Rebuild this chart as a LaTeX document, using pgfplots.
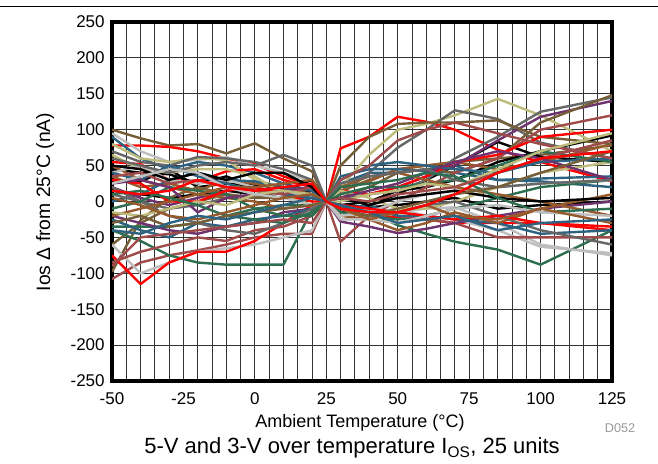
\documentclass[border=0pt]{standalone}
\usepackage{fontspec}
\setmainfont{Liberation Sans}
\usepackage{pgfplots}
\pgfplotsset{compat=1.18}

\definecolor{cR}{RGB}{255,0,0}
\definecolor{cK}{RGB}{0,0,0}
\definecolor{cG}{RGB}{103,103,103}
\definecolor{cL}{RGB}{190,190,190}
\definecolor{cY}{RGB}{190,188,125}
\definecolor{cB}{RGB}{150,90,45}
\definecolor{cD}{RGB}{118,94,56}
\definecolor{cM}{RGB}{160,75,75}
\definecolor{cS}{RGB}{45,98,128}
\definecolor{cN}{RGB}{45,110,80}
\definecolor{cP}{RGB}{110,50,110}

\begin{document}
\begin{tikzpicture}[font=\fontsize{12.75}{15}\selectfont]
\useasboundingbox (0,0) rectangle (493.5pt,348pt);
\draw[line width=0.75pt] (0,342.75pt) -- (493.5pt,342.75pt);

\begin{axis}[
    at={(84pt,62.25pt)}, anchor=south west,
    scale only axis, width=375pt, height=269.25pt,
    xmin=-50, xmax=125, ymin=-250, ymax=250,
    xtick={-50,-25,...,125}, minor x tick num=4,
    ytick={-250,-200,...,250},
    xmajorgrids, xminorgrids, ymajorgrids,
    grid style={black!80, line width=0.75pt},
    minor grid style={black!80, line width=0.75pt},
    major tick length=0pt, minor tick length=0pt,
    axis line style={line width=2.4pt},
    tick label style={font=\fontsize{12.75}{15}\selectfont},
    xticklabel style={yshift=-5pt},
    yticklabel style={xshift=-2pt},
    /pgf/number format/assume math mode=true,
    every axis plot/.append style={line width=1.8pt, line join=round},
  ]
% T: -50 -40 -30 -20 -10 0 10 20 25 30 40 50 60 70 85 100 125
\addplot[cD] coordinates {(-50,100)(-40,88)(-30,78)(-20,80)(-10,67)(0,81)(10,60)(20,42)(25,0)(30,15)(40,30)(50,45)(60,50)(70,55)(85,60)(100,65)(125,78)};
\addplot[cR] coordinates {(-50,78)(-40,78)(-30,76)(-20,70)(-10,60)(0,52)(10,35)(20,22)(25,0)(30,74)(40,90)(50,118)(60,111)(70,100)(85,72)(100,55)(125,28)};
\addplot[cL] coordinates {(-50,95)(-40,70)(-30,55)(-20,58)(-10,62)(0,50)(10,40)(20,28)(25,0)(30,-25)(40,-22)(50,-15)(60,-10)(70,-8)(85,-30)(100,-60)(125,-75)};
\addplot[cS] coordinates {(-50,90)(-40,60)(-30,45)(-20,55)(-10,50)(0,40)(10,25)(20,15)(25,0)(30,25)(40,40)(50,40)(60,45)(70,50)(85,30)(100,32)(125,35)};
\addplot[cY] coordinates {(-50,80)(-40,60)(-30,55)(-20,60)(-10,58)(0,30)(10,20)(20,15)(25,0)(30,20)(40,65)(50,100)(60,108)(70,120)(85,143)(100,120)(125,70)};
\addplot[cG] coordinates {(-50,70)(-40,55)(-30,50)(-20,62)(-10,60)(0,55)(10,45)(20,30)(25,0)(30,10)(40,40)(50,75)(60,100)(70,127)(85,115)(100,82)(125,60)};
\addplot[cR] coordinates {(-50,55)(-40,52)(-30,30)(-20,28)(-10,42)(0,45)(10,30)(20,20)(25,0)(30,-10)(40,-20)(50,-22)(60,-25)(70,-30)(85,-30)(100,-30)(125,-40)};
\addplot[cK] coordinates {(-50,45)(-40,40)(-30,38)(-20,25)(-10,35)(0,20)(10,18)(20,10)(25,0)(30,-15)(40,-5)(50,10)(60,30)(70,50)(85,83)(100,62)(125,55)};
\addplot[cK] coordinates {(-50,30)(-40,28)(-30,45)(-20,20)(-10,25)(0,22)(10,15)(20,30)(25,0)(30,-5)(40,0)(50,15)(60,20)(70,30)(85,55)(100,70)(125,92)};
\addplot[cK] coordinates {(-50,15)(-40,10)(-30,5)(-20,10)(-10,15)(0,10)(10,5)(20,15)(25,0)(30,-5)(40,-8)(50,-5)(60,0)(70,5)(85,-10)(100,-5)(125,0)};
\addplot[cB] coordinates {(-50,35)(-40,20)(-30,25)(-20,15)(-10,30)(0,25)(10,20)(20,10)(25,0)(30,15)(40,28)(50,45)(60,50)(70,55)(85,45)(100,55)(125,80)};
\addplot[cS] coordinates {(-50,0)(-40,10)(-30,30)(-20,40)(-10,30)(0,28)(10,20)(20,15)(25,0)(30,35)(40,45)(50,45)(60,42)(70,40)(85,30)(100,28)(125,20)};
\addplot[cP] coordinates {(-50,20)(-40,5)(-30,-5)(-20,5)(-10,15)(0,20)(10,10)(20,5)(25,0)(30,5)(40,10)(50,20)(60,35)(70,50)(85,85)(100,118)(125,140)};
\addplot[cG] coordinates {(-50,10)(-40,0)(-30,-10)(-20,-5)(-10,5)(0,10)(10,5)(20,10)(25,0)(30,5)(40,10)(50,15)(60,30)(70,60)(85,90)(100,125)(125,145)};
\addplot[cD] coordinates {(-50,-60)(-40,-30)(-30,-10)(-20,0)(-10,10)(0,5)(10,5)(20,10)(25,0)(30,50)(40,90)(50,108)(60,110)(70,110)(85,113)(100,90)(125,80)};
\addplot[cD] coordinates {(-50,-98)(-40,-26)(-30,5)(-20,20)(-10,10)(0,5)(10,15)(20,20)(25,0)(30,5)(40,20)(50,40)(60,45)(70,40)(85,60)(100,110)(125,148)};
\addplot[cM] coordinates {(-50,-108)(-40,-85)(-30,-75)(-20,-68)(-10,-60)(0,-50)(10,-45)(20,-45)(25,0)(30,-56)(40,-20)(50,0)(60,20)(70,40)(85,60)(100,100)(125,120)};
\addplot[cN] coordinates {(-50,-40)(-40,-55)(-30,-75)(-20,-85)(-10,-88)(0,-88)(10,-88)(20,-12)(25,0)(30,-15)(40,-20)(50,-25)(60,-20)(70,-10)(85,5)(100,20)(125,30)};
\addplot[cN] coordinates {(-50,-35)(-40,-35)(-30,-35)(-20,-30)(-10,-20)(0,-10)(10,-5)(20,-5)(25,0)(30,-5)(40,-15)(50,-33)(60,-45)(70,-56)(85,-67)(100,-88)(125,-40)};
\addplot[cL] coordinates {(-50,-60)(-40,-100)(-30,-85)(-20,-70)(-10,-65)(0,-60)(10,-50)(20,-40)(25,0)(30,-20)(40,-15)(50,-10)(60,-20)(70,-25)(85,-40)(100,-63)(125,-72)};
\addplot[cR] coordinates {(-50,-75)(-40,-115)(-30,-85)(-20,-70)(-10,-70)(0,-55)(10,-30)(20,-5)(25,0)(30,15)(40,10)(50,20)(60,35)(70,55)(85,65)(100,90)(125,100)};
\addplot[cM] coordinates {(-50,-85)(-40,-70)(-30,-60)(-20,-50)(-10,-55)(0,-40)(10,-35)(20,-20)(25,0)(30,-5)(40,-10)(50,-20)(60,-25)(70,-30)(85,-50)(100,-50)(125,-50)};
\addplot[cP] coordinates {(-50,-20)(-40,-30)(-30,-40)(-20,-45)(-10,-35)(0,-30)(10,-15)(20,-10)(25,0)(30,-28)(40,-35)(50,-44)(60,-38)(70,-30)(85,-20)(100,-10)(125,0)};
\addplot[cS] coordinates {(-50,-25)(-40,-40)(-30,-50)(-20,-30)(-10,-35)(0,-25)(10,-20)(20,-10)(25,0)(30,-10)(40,-5)(50,-20)(60,-20)(70,-25)(85,-30)(100,-45)(125,-40)};
\addplot[cY] coordinates {(-50,65)(-40,45)(-30,40)(-20,45)(-10,45)(0,35)(10,10)(20,-5)(25,0)(30,15)(40,5)(50,-10)(60,-10)(70,0)(85,20)(100,40)(125,55)};
\addplot[cB] coordinates {(-50,50)(-40,30)(-30,20)(-20,10)(-10,5)(0,0)(10,-10)(20,-5)(25,0)(30,-20)(40,-25)(50,-40)(60,-30)(70,-15)(85,-30)(100,-10)(125,10)};
\addplot[cG] coordinates {(-50,20)(-40,0)(-30,-20)(-20,-30)(-10,-40)(0,-45)(10,-30)(20,-10)(25,0)(30,-10)(40,-20)(50,-15)(60,-5)(70,0)(85,-20)(100,-40)(125,-60)};
\addplot[cL] coordinates {(-50,40)(-40,50)(-30,30)(-20,25)(-10,30)(0,20)(10,15)(20,5)(25,0)(30,-20)(40,-15)(50,0)(60,10)(70,15)(85,20)(100,25)(125,30)};
\addplot[cN] coordinates {(-50,-10)(-40,0)(-30,20)(-20,15)(-10,10)(0,-10)(10,-20)(20,-20)(25,0)(30,10)(40,20)(50,20)(60,25)(70,30)(85,50)(100,70)(125,55)};
\addplot[cR] coordinates {(-50,30)(-40,25)(-30,0)(-20,0)(-10,15)(0,20)(10,10)(20,0)(25,0)(30,-5)(40,-10)(50,-15)(60,-20)(70,-25)(85,-20)(100,-30)(125,-35)};
\addplot[cS] coordinates {(-50,40)(-40,30)(-30,50)(-20,35)(-10,25)(0,15)(10,10)(20,5)(25,0)(30,30)(40,50)(50,55)(60,50)(70,45)(85,40)(100,55)(125,60)};
\addplot[cP] coordinates {(-50,25)(-40,30)(-30,20)(-20,-15)(-10,5)(0,10)(10,15)(20,20)(25,0)(30,5)(40,15)(50,25)(60,40)(70,55)(85,70)(100,60)(125,30)};
\addplot[cB] coordinates {(-50,-20)(-40,-10)(-30,0)(-20,10)(-10,20)(0,20)(10,25)(20,30)(25,0)(30,20)(40,35)(50,40)(60,30)(70,20)(85,10)(100,0)(125,-20)};
\addplot[cM] coordinates {(-50,35)(-40,40)(-30,25)(-20,30)(-10,20)(0,15)(10,10)(20,20)(25,0)(30,30)(40,50)(50,85)(60,100)(70,110)(85,95)(100,80)(125,60)};
\addplot[cK] coordinates {(-50,50)(-40,45)(-30,30)(-20,40)(-10,30)(0,40)(10,40)(20,20)(25,0)(30,5)(40,-5)(50,5)(60,10)(70,15)(85,5)(100,0)(125,5)};
\addplot[cG] coordinates {(-50,60)(-40,50)(-30,40)(-20,50)(-10,55)(0,50)(10,65)(20,50)(25,0)(30,25)(40,35)(50,40)(60,45)(70,30)(85,20)(100,25)(125,30)};
\addplot[cY] coordinates {(-50,-15)(-40,-20)(-30,-10)(-20,0)(-10,-5)(0,10)(10,15)(20,10)(25,0)(30,0)(40,10)(50,15)(60,25)(70,20)(85,45)(100,70)(125,95)};
\addplot[cN] coordinates {(-50,10)(-40,15)(-30,5)(-20,-5)(-10,-20)(0,-25)(10,-30)(20,-15)(25,0)(30,20)(40,25)(50,30)(60,40)(70,35)(85,5)(100,-15)(125,-10)};
\addplot[cM] coordinates {(-50,-90)(-40,-50)(-30,-45)(-20,-40)(-10,-35)(0,-30)(10,-25)(20,-30)(25,0)(30,5)(40,0)(50,10)(60,15)(70,20)(85,40)(100,60)(125,85)};
\addplot[cL] coordinates {(-50,25)(-40,35)(-30,45)(-20,40)(-10,20)(0,10)(10,5)(20,-5)(25,0)(30,-25)(40,-25)(50,-30)(60,-20)(70,-10)(85,-5)(100,-15)(125,-20)};
\addplot[cD] coordinates {(-50,-30)(-40,-20)(-30,-35)(-20,-30)(-10,-20)(0,-15)(10,-10)(20,-5)(25,0)(30,-10)(40,-20)(50,-10)(60,0)(70,10)(85,20)(100,40)(125,70)};
\addplot[cB] coordinates {(-50,5)(-40,-5)(-30,-20)(-20,-25)(-10,-15)(0,-5)(10,5)(20,10)(25,0)(30,-10)(40,-25)(50,-15)(60,-5)(70,-20)(85,-25)(100,-10)(125,-30)};
\addplot[cS] coordinates {(-50,-40)(-40,-45)(-30,-30)(-20,-20)(-10,-25)(0,-15)(10,-5)(20,5)(25,0)(30,-5)(40,-15)(50,-30)(60,-25)(70,-20)(85,-40)(100,-30)(125,-25)};
\addplot[cR] coordinates {(-50,15)(-40,10)(-30,15)(-20,30)(-10,20)(0,15)(10,20)(20,25)(25,0)(30,-10)(40,-15)(50,-15)(60,-5)(70,10)(85,40)(100,60)(125,70)};
\end{axis}

\node[rotate=90, font=\fontsize{14.5}{17}\selectfont] at (33.75pt,196.5pt) {Ios Δ from 25°C (nA)};
\node[font=\fontsize{13.5}{16}\selectfont] at (270pt,31pt) {Ambient Temperature (°C)};
\node[font=\fontsize{16.5}{19}\selectfont] at (264pt,12pt) {5-V and 3-V over temperature I\textsubscript{OS}, 25 units};
\node[font=\fontsize{9.5}{11}\selectfont, text=black!40] at (465pt,27pt) {D052};
\end{tikzpicture}
\end{document}
